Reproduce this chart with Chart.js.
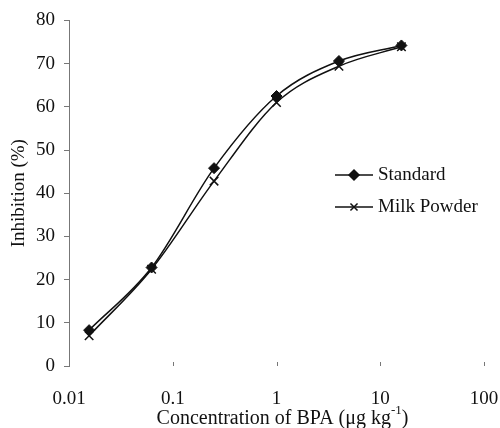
<!DOCTYPE html>
<html>
<head>
<meta charset="utf-8">
<script src="https://cdn.jsdelivr.net/npm/chart.js@4"></script>
<style>
  html, body { margin: 0; padding: 0; background: #fff; }
  #wrap { width: 500px; height: 428px; }
</style>
</head>
<body>
<div id="wrap"><canvas id="chart" width="500" height="428"></canvas></div>
<script>
// data
const concentrations = [0.015625, 0.0625, 0.25, 1, 4, 16];
const standard = [8.3, 22.8, 45.8, 62.5, 70.6, 74.2];
const milkPowder = [7.0, 22.4, 42.8, 61.0, 69.4, 73.9];
const xTickValues = [0.01, 0.1, 1, 10, 100];
const xTickLabels = ['0.01', '0.1', '1', '10', '100'];
const seriesNames = ['Standard', 'Milk Powder'];

const FONT = "'Liberation Serif', 'Times New Roman', serif";
const INK = '#111';
const AXIS = '#777';

const toPoints = vals => vals.map((v, i) => ({ x: concentrations[i], y: v }));

// small inward ticks on the x axis + axis title with superscript + legend
const extras = {
    id: 'extras',
    afterDraw(chart) {
        const ctx = chart.ctx;
        const xs = chart.scales.x;
        const area = chart.chartArea;
        ctx.save();

        // x ticks (drawn upward from the bottom, no axis line)
        ctx.strokeStyle = AXIS;
        ctx.lineWidth = 1;
        xTickValues.slice(1).forEach(v => {
            const px = Math.round(xs.getPixelForValue(v)) + 0.5;
            ctx.beginPath();
            ctx.moveTo(px, area.bottom - 4);
            ctx.lineTo(px, area.bottom);
            ctx.stroke();
        });

        // x title
        ctx.fillStyle = INK;
        ctx.textBaseline = 'alphabetic';
        const main = 'Concentration of BPA (\u03bcg kg';
        ctx.font = `13px ${FONT}`;
        const supW = ctx.measureText('-1').width;
        ctx.font = `20px ${FONT}`;
        const mainW = ctx.measureText(main).width;
        const closeW = ctx.measureText(')').width;
        const total = mainW + supW + closeW;
        const x0 = (area.left + area.right) / 2 + 6 - total / 2;
        const base = 424;
        ctx.fillText(main, x0, base);
        ctx.font = `13px ${FONT}`;
        ctx.fillText('-1', x0 + mainW, base - 10);
        ctx.font = `20px ${FONT}`;
        ctx.fillText(')', x0 + mainW + supW, base);

        // legend
        const items = [
            { name: seriesNames[0], y: 175, style: 'rectRot' },
            { name: seriesNames[1], y: 207, style: 'crossRot' }
        ];
        items.forEach(it => {
            ctx.strokeStyle = INK;
            ctx.lineWidth = 1.5;
            ctx.beginPath();
            ctx.moveTo(335, it.y);
            ctx.lineTo(373, it.y);
            ctx.stroke();
            Chart.helpers.drawPoint(ctx, {
                pointStyle: it.style,
                radius: 5,
                borderWidth: 1.5
            }, 354, it.y);
            if (it.style === 'rectRot') {
                ctx.fillStyle = INK;
                ctx.fill();
            }
            ctx.fillStyle = INK;
            ctx.font = `19px ${FONT}`;
            ctx.textBaseline = 'middle';
            ctx.fillText(it.name, 378, it.y);
        });

        ctx.restore();
    }
};

new Chart(document.getElementById('chart'), {
    type: 'line',
    data: {
        datasets: [
            {
                label: seriesNames[0],
                data: toPoints(standard),
                borderColor: INK,
                backgroundColor: INK,
                borderWidth: 1.5,
                pointStyle: 'rectRot',
                pointRadius: 5.5,
                pointBorderWidth: 1,
                cubicInterpolationMode: 'monotone',
                fill: false
            },
            {
                label: seriesNames[1],
                data: toPoints(milkPowder),
                borderColor: INK,
                backgroundColor: INK,
                borderWidth: 1.5,
                pointStyle: 'crossRot',
                pointRadius: 6,
                pointBorderWidth: 1.5,
                cubicInterpolationMode: 'monotone',
                fill: false
            }
        ]
    },
    options: {
        responsive: false,
        animation: false,
        layout: { padding: { top: 20, right: 0, left: 0, bottom: 0 } },
        plugins: {
            legend: { display: false },
            tooltip: { enabled: false }
        },
        scales: {
            x: {
                type: 'logarithmic',
                min: 0.01,
                max: 100,
                afterBuildTicks: scale => {
                    scale.ticks = xTickValues.map(v => ({ value: v }));
                },
                afterFit: scale => {
                    scale.height = 62;
                    scale.paddingRight = 16;
                },
                border: { display: false },
                grid: { display: false, drawTicks: false },
                ticks: {
                    autoSkip: false,
                    maxRotation: 0,
                    padding: 22,
                    color: INK,
                    font: { family: FONT, size: 19 },
                    callback: (value) => {
                        const i = xTickValues.indexOf(value);
                        return i >= 0 ? xTickLabels[i] : '';
                    }
                }
            },
            y: {
                min: 0,
                max: 80,
                afterFit: scale => { scale.width = 69; },
                border: { display: true, color: AXIS, width: 1 },
                grid: {
                    drawOnChartArea: false,
                    drawTicks: true,
                    tickLength: 5,
                    color: AXIS
                },
                ticks: {
                    stepSize: 10,
                    padding: 9,
                    color: INK,
                    font: { family: FONT, size: 19 }
                },
                title: {
                    display: true,
                    text: 'Inhibition (%)',
                    color: INK,
                    font: { family: FONT, size: 19 },
                    padding: { top: 8, bottom: 0 }
                }
            }
        }
    },
    plugins: [extras]
});
</script>
</body>
</html>
